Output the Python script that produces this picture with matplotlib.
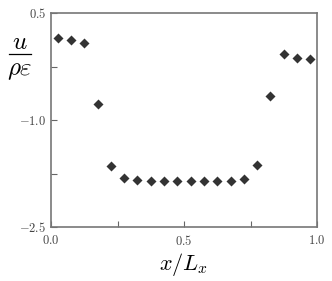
import matplotlib
matplotlib.use('Agg')
import matplotlib.pyplot as plt
from matplotlib.lines import Line2D
import numpy as np

plt.rcParams['mathtext.fontset'] = 'cm'

x = [0.025, 0.075, 0.125, 0.175, 0.225, 0.275, 0.325, 0.375, 0.425, 0.475,
     0.525, 0.575, 0.625, 0.675, 0.725, 0.775, 0.825, 0.875, 0.925, 0.975]
u = [0.15, 0.12, 0.08, -0.78, -1.65, -1.82, -1.845, -1.85, -1.85, -1.86,
     -1.86, -1.86, -1.86, -1.86, -1.83, -1.63, -0.67, -0.07, -0.13, -0.14]

xticks = [0.0, 0.25, 0.5, 0.75, 1.0]
xlabels = ['$0.0$', '', '$0.5$', '', '$1.0$']
yticks = [-2.5, -1.75, -1.0, -0.25, 0.5]
ylabels = ['$-2.5$', '', '$-1.0$', '', '$0.5$']

fig = plt.figure(figsize=(3.32, 2.81), dpi=100)
ax = fig.add_axes([51/332, 1-227/281, 266/332, 214/281])

ax.scatter(x, u, marker='D', s=26, color='#333333', zorder=3, linewidths=0)

ax.set_xlim(0, 1)
ax.set_ylim(-2.5, 0.5)
ax.set_xticks(xticks)
ax.set_xticklabels(xlabels)
ax.set_yticks(yticks)
ax.set_yticklabels(ylabels)
ax.tick_params(direction='in', length=4, width=0.8, color='#666666',
               labelsize=9, labelcolor='#444444')
ax.tick_params(axis='x', pad=5)
for s in ax.spines.values():
    s.set_color('#777777')
    s.set_linewidth(1.2)

ax.set_xlabel(r'$x/L_x$', fontsize=16, labelpad=2)

# y label as a stacked fraction u / (rho eps)
fig.text(20/332, 1-42/281, r'$u$', fontsize=18, ha='center', va='center')
fig.add_artist(Line2D([9/332, 31/332], [1-54/281, 1-54/281],
                      color='black', linewidth=0.9))
fig.text(20/332, 1-70/281, r'$\rho\varepsilon$', fontsize=18,
         ha='center', va='center')

fig.savefig('out.png', dpi=100)
